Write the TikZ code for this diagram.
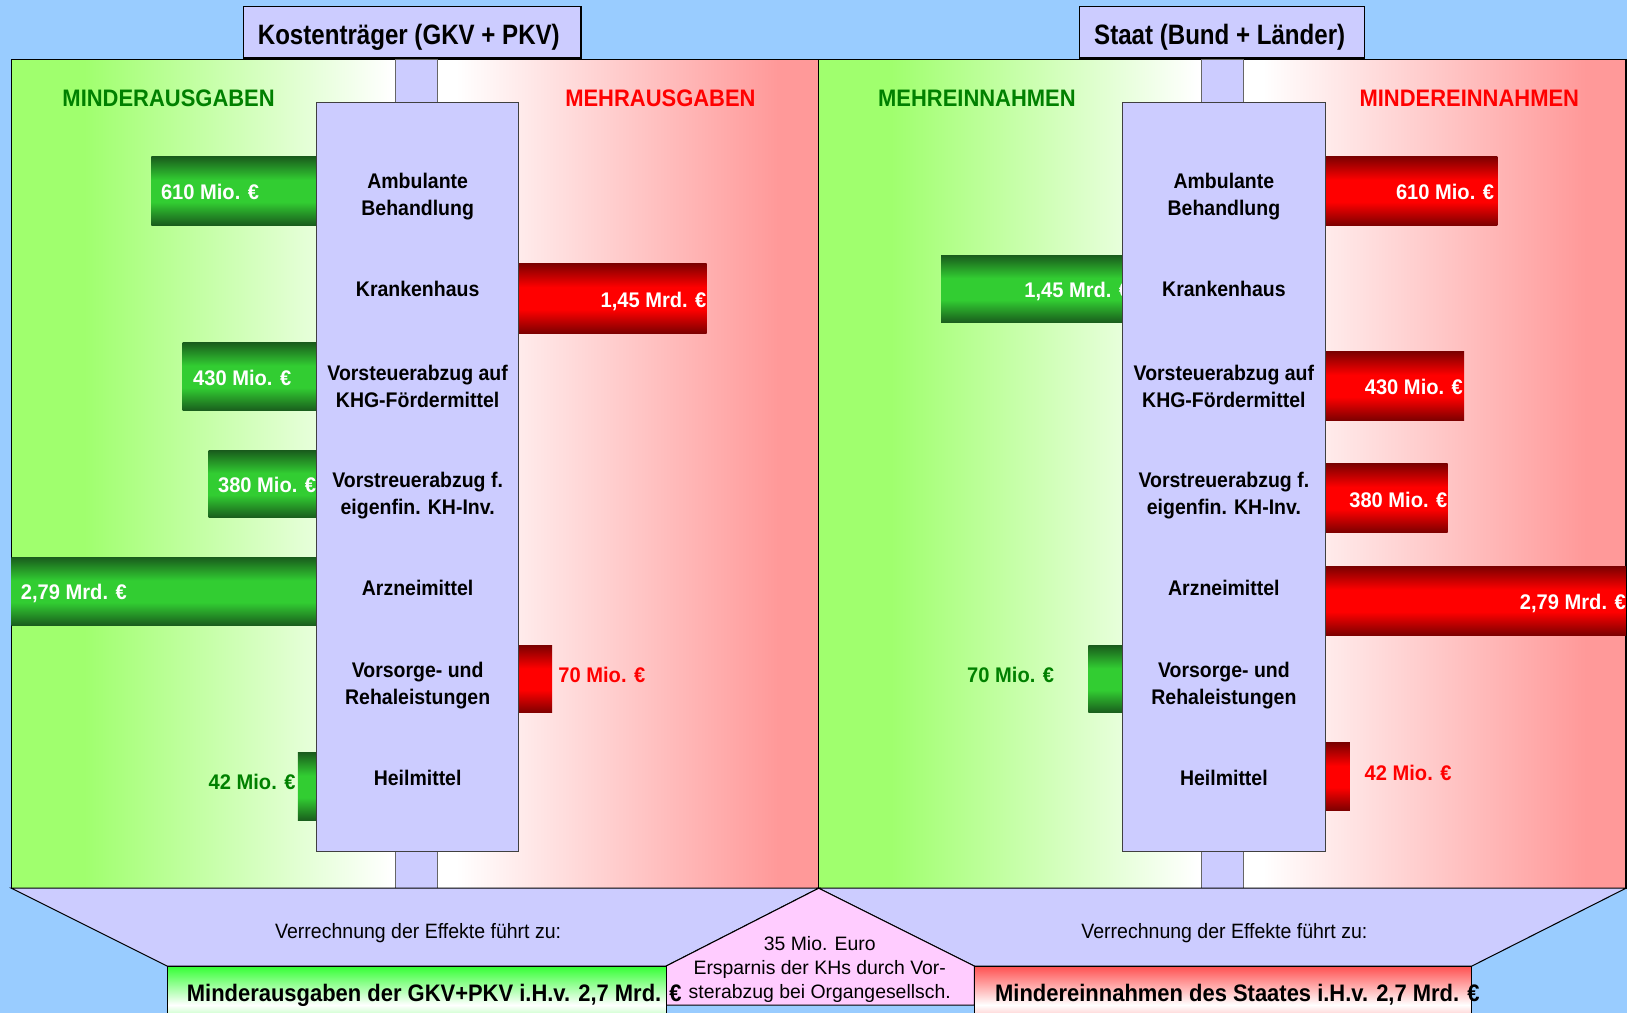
\documentclass[tikz,border=0pt]{standalone}
\usepackage{fontspec}
\setmainfont{Liberation Sans}
\newfontfamily\fT{Liberation Sans}[FakeStretch=0.86]
\newfontfamily\fB{Liberation Sans}[FakeStretch=0.92]
\newfontfamily\fV{Liberation Sans}[FakeStretch=0.95]
\newfontfamily\fR{Liberation Sans}[FakeStretch=0.94]
\newfontfamily\fP{Liberation Sans}
\definecolor{bgblue}{RGB}{153,204,255}
\definecolor{lav}{RGB}{204,204,255}
\definecolor{pinkbox}{RGB}{255,204,255}
\definecolor{pg}{RGB}{160,255,110}
\definecolor{pr}{RGB}{255,153,153}
\definecolor{dg}{RGB}{25,92,28}
\definecolor{bgr}{RGB}{50,205,50}
\definecolor{dr}{RGB}{125,0,0}
\definecolor{brr}{RGB}{255,0,0}
\definecolor{txtg}{RGB}{0,128,0}
\definecolor{txtr}{RGB}{255,0,0}
\definecolor{resg}{RGB}{51,255,51}
\definecolor{resr}{RGB}{255,80,80}
\pgfdeclareverticalshading{gbarsh}{100bp}{color(0bp)=(dg); color(25bp)=(dg); color(42bp)=(bgr); color(58bp)=(bgr); color(75bp)=(dg); color(100bp)=(dg)}
\pgfdeclareverticalshading{rbarsh}{100bp}{color(0bp)=(dr); color(25bp)=(dr); color(42bp)=(brr); color(58bp)=(brr); color(75bp)=(dr); color(100bp)=(dr)}
\pgfdeclareverticalshading{resgsh}{100bp}{color(0bp)=(resg); color(25bp)=(resg); color(50bp)=(white); color(75bp)=(resg); color(100bp)=(resg)}
\pgfdeclareverticalshading{resrsh}{100bp}{color(0bp)=(resr); color(25bp)=(resr); color(50bp)=(white); color(75bp)=(resr); color(100bp)=(resr)}
\pgfdeclarehorizontalshading{panL}{100bp}{color(0bp)=(pg); color(25bp)=(pg); color(34bp)=(pg); color(72bp)=(white); color(100bp)=(white)}
\pgfdeclarehorizontalshading{panR}{100bp}{color(0bp)=(white); color(25bp)=(white); color(30bp)=(white); color(70bp)=(pr); color(100bp)=(pr)}
\tikzset{
  panelbd/.style={draw=black, line width=1.2pt},
  stubbox/.style={fill=lav, draw=black!60, line width=1pt},
  colbox/.style={fill=lav, draw=black!75, line width=1pt, inner sep=0pt, outer sep=0pt, anchor=north west},
  titlebox/.style={fill=lav, draw=black, line width=1.2pt, inner sep=0pt, outer sep=0pt, anchor=north west},
  gbar/.style={shade, shading=gbarsh, inner sep=0pt, outer sep=0pt, anchor=north west},
  rbar/.style={shade, shading=rbarsh, inner sep=0pt, outer sep=0pt, anchor=north west},
  resbox/.style={shade, inner sep=0pt, outer sep=0pt, anchor=north west, draw=black, line width=1pt},
  val/.style={font=\fV\bfseries\fontsize{20.4}{24}\selectfont, text=white, inner sep=0pt, text height=14.6pt, text depth=0pt},
  lab/.style={font=\fB\bfseries\fontsize{20.4}{26}\selectfont, align=center, inner sep=0pt},
  head/.style={font=\fB\bfseries\fontsize{23}{27}\selectfont, inner sep=0pt},
  titletext/.style={font=\fT\bfseries\fontsize{27}{32}\selectfont, inner sep=0pt},
  verr/.style={font=\fR\fontsize{20}{24}\selectfont, inner sep=0pt},
  restext/.style={font=\fB\bfseries\fontsize{23}{27}\selectfont, inner sep=0pt, text height=16.5pt, text depth=0pt},
  pinktext/.style={font=\fP\fontsize{18.7}{23}\selectfont, align=center, inner sep=0pt},
  funnel/.style={fill=lav, draw=black, line width=1pt},
}
\begin{document}
\begin{tikzpicture}[x=1pt,y=-1pt]
\clip (0,0) rectangle (1568,976);
\fill[bgblue] (0,0) rectangle (1568,976);

% panels
\shade[shading=panL] (11,57) rectangle (401,856);
\shade[shading=panR] (401,57) rectangle (789,856);
\shade[shading=panL] (789,57) rectangle (1178,856);
\shade[shading=panR] (1178,57) rectangle (1567,856);
\draw[panelbd] (11,57) rectangle (789,856);
\draw[panelbd] (789,57) rectangle (1567,856);

% stubs
\draw[stubbox] (381.5,57) rectangle (421.5,856);
\draw[stubbox] (1158,57) rectangle (1198,856);

% headings
\node[head, text=txtg] (hL1) at (162.5,95) {MINDERAUSGABEN};
\node[head, text=txtr] (hL2) at (636.5,95) {MEHRAUSGABEN};
\node[head, text=txtg] (hR1) at (941.5,95) {MEHREINNAHMEN};
\node[head, text=txtr] (hR2) at (1416,95) {MINDEREINNAHMEN};

% left bars
\node[gbar, minimum width=159pt, minimum height=66pt] (bL1) at (146,151) {};
\node[rbar, minimum width=181pt, minimum height=67pt] (bL2) at (500,254) {};
\node[gbar, minimum width=129pt, minimum height=66pt] (bL3) at (176,330) {};
\node[gbar, minimum width=104pt, minimum height=65pt] (bL4) at (201,434) {};
\node[gbar, minimum width=294pt, minimum height=66pt] (bL5) at (11,537) {};
\node[rbar, minimum width=32pt, minimum height=65pt] (bL6) at (500,622) {};
\node[gbar, minimum width=18pt, minimum height=66pt] (bL7) at (287,725) {};
\node[val, anchor=west] (vL1) at (155,185) {610 Mio. €};
\node[val, anchor=east] (vL2) at (681,289) {1,45 Mrd. €};
\node[val, anchor=west] (vL3) at (186,364) {430 Mio. €};
\node[val, anchor=west] (vL4) at (210,467) {380 Mio. €};
\node[val, anchor=west] (vL5) at (20,570) {2,79 Mrd. €};
\node[val, anchor=west, text=txtr] (vL6) at (538,650) {70 Mio. €};
\node[val, anchor=east, text=txtg] (vL7) at (285,754) {42 Mio. €};

% right bars
\node[rbar, minimum width=166pt, minimum height=66pt] (bR1) at (1277,151) {};
\node[gbar, minimum width=175pt, minimum height=65pt] (bR2) at (907,246) {};
\node[rbar, minimum width=134pt, minimum height=66pt] (bR3) at (1277,339) {};
\node[rbar, minimum width=118pt, minimum height=66pt] (bR4) at (1277,447) {};
\node[rbar, minimum width=290pt, minimum height=66pt] (bR5) at (1277,546) {};
\node[gbar, minimum width=33pt, minimum height=65pt] (bR6) at (1049,622) {};
\node[rbar, minimum width=24pt, minimum height=65pt] (bR7) at (1277,716) {};
\node[val, anchor=east] (vR1) at (1440,185) {610 Mio. €};
\node[val, anchor=west] (vR2) at (987,279) {1,45 Mrd. €};
\node[val, anchor=east] (vR3) at (1410,373) {430 Mio. €};
\node[val, anchor=east] (vR4) at (1395,482) {380 Mio. €};
\node[val, anchor=east] (vR5) at (1567,580) {2,79 Mrd. €};
\node[val, anchor=east, text=txtg] (vR6) at (1016,650) {70 Mio. €};
\node[val, anchor=west, text=txtr] (vR7) at (1315,745) {42 Mio. €};

% columns
\node[colbox, minimum width=195pt, minimum height=721.5pt] (colL) at (305,99) {};
\node[colbox, minimum width=195pt, minimum height=721.5pt] (colR) at (1082,99) {};

% column labels
\foreach \cx/\s in {402.5/L, 1179.5/R}{
  \node[lab] (a1\s) at (\cx,189) {Ambulante\\Behandlung};
  \node[lab] (a2\s) at (\cx,278) {Krankenhaus};
  \node[lab] (a3\s) at (\cx,372) {Vorsteuerabzug auf\\KHG-Fördermittel};
  \node[lab] (a4\s) at (\cx,478) {Vorstreuerabzug f.\\eigenfin. KH-Inv.};
  \node[lab] (a5\s) at (\cx,566.5) {Arzneimittel};
  \node[lab] (a6\s) at (\cx,661) {Vorsorge- und\\Rehaleistungen};
  \node[lab] (a7\s) at (\cx,749.5) {Heilmittel};
}

% titles
\node[titlebox, minimum width=325pt, minimum height=49.6pt] (tL) at (235,6.4) {};
\node[titlebox, minimum width=275pt, minimum height=49.6pt] (tR) at (1040,6.4) {};
\node[titletext] (ttL) at (394,35.5) {Kostenträger (GKV + PKV)};
\node[titletext] (ttR) at (1175.5,35.5) {Staat (Bund + Länder)};

% funnels
\draw[funnel] (11,856) -- (789,856) -- (642,931) -- (161,931) -- cycle;
\draw[funnel] (789,856) -- (1567,856) -- (1418.5,931) -- (939,931) -- cycle;
\node[verr] (vrL) at (403,899) {Verrechnung der Effekte führt zu:};
\node[verr] (vrR) at (1180,899) {Verrechnung der Effekte führt zu:};

% pink pentagon
\draw[fill=pinkbox, draw=black, line width=1pt] (789,856) -- (939,931) -- (939,968.6) -- (642,968.6) -- (642,931) -- cycle;

% result boxes
\node[resbox, shading=resgsh, minimum width=481pt, minimum height=75pt] (rL) at (161,931) {};
\node[resbox, shading=resrsh, minimum width=479.5pt, minimum height=75pt] (rR) at (939,931) {};
\node[restext] (rtL) at (418.5,957) {Minderausgaben der GKV+PKV i.H.v. 2,7 Mrd. €};
\node[restext] (rtR) at (1192.5,957) {Mindereinnahmen des Staates i.H.v. 2,7 Mrd. €};

% pink text
\node[pinktext] (pt) at (790,934) {35 Mio. Euro\\Ersparnis der KHs durch Vor-\\sterabzug bei Organgesellsch.};
\end{tikzpicture}
\end{document}
